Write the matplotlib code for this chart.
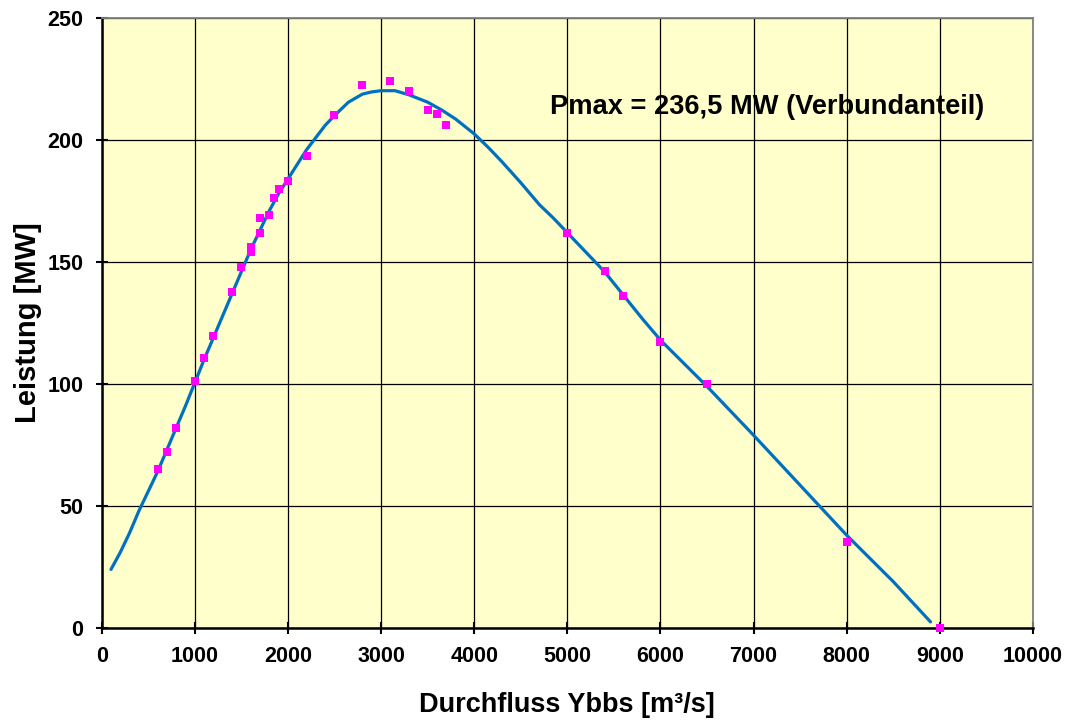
import matplotlib
matplotlib.use("Agg")
import matplotlib.pyplot as plt

# Measured points (Durchfluss [m³/s], Leistung [MW])
meas_q = [600, 700, 800, 1000, 1100, 1200, 1400, 1500, 1600, 1600, 1700, 1700,
          1800, 1850, 1900, 2000, 2200, 2500, 2800, 3100, 3300, 3500, 3600, 3700,
          5000, 5400, 5600, 6000, 6500, 8000, 9000]
meas_p = [65.0, 72.3, 81.8, 101.2, 110.5, 119.7, 137.7, 148.1, 156.3, 154.2, 162.0, 168.2,
          169.3, 176.1, 180.0, 183.3, 193.4, 210.1, 222.5, 224.2, 220.1, 212.2, 210.7, 206.0,
          161.8, 146.3, 136.1, 117.3, 99.9, 35.1, 0.0]

# Fitted curve
curve_q = [100, 200, 300, 400, 500, 600, 700, 800, 900, 1000, 1100, 1200, 1300, 1400,
           1500, 1600, 1700, 1800, 1900, 2000, 2100, 2200, 2300, 2400, 2500, 2650,
           2800, 2900, 3000, 3150, 3300, 3500, 3650, 3800, 4000, 4150, 4300, 4500,
           4700, 4850, 5000, 5200, 5400, 5600, 5800, 6000, 6250, 6500, 7000, 7500,
           8000, 8500, 8900]
curve_p = [24, 31, 39, 48, 56, 64, 73, 82, 91, 100.5, 110, 119, 128, 137,
           146, 155, 163, 171, 178, 184, 190, 196, 201, 206, 210, 215.5,
           218.8, 219.7, 220.2, 220.2, 218.5, 215.5, 212.3, 208.6, 202.5, 197, 191, 182.5,
           173.5, 168, 162, 154, 146, 136.5, 127, 118, 108.5, 99, 79, 58.5,
           38, 19, 2.5]

x_ticks = [0, 1000, 2000, 3000, 4000, 5000, 6000, 7000, 8000, 9000, 10000]
y_ticks = [0, 50, 100, 150, 200, 250]

plt.rcParams['font.family'] = ['Liberation Sans', 'DejaVu Sans']
plt.rcParams['font.weight'] = 'bold'

fig = plt.figure(figsize=(10.69, 7.22), dpi=100)
ax = fig.add_axes([0.0951, 0.1302, 0.8712, 0.8449])
ax.set_facecolor('#FFFFCC')

ax.plot(curve_q, curve_p, color='#0070C0', lw=2.3, zorder=3,
        solid_joinstyle='round', solid_capstyle='round')
ax.plot(meas_q, meas_p, linestyle='none', marker='s', markersize=6,
        color='#FF00FF', markeredgewidth=0, zorder=4, clip_on=False)

ax.set_xlim(0, 10000)
ax.set_ylim(0, 250)
ax.set_xticks(x_ticks)
ax.set_yticks(y_ticks)
ax.grid(True, color='black', lw=0.9)
ax.set_axisbelow(True)

for s in ['top', 'right']:
    ax.spines[s].set_color('#808080')
    ax.spines[s].set_linewidth(1.3)
for s in ['left', 'bottom']:
    ax.spines[s].set_color('black')
    ax.spines[s].set_linewidth(1.8)

ax.tick_params(direction='inout', length=8, width=1.5, labelsize=15.5, pad=9)
for lbl in ax.get_xticklabels() + ax.get_yticklabels():
    lbl.set_fontweight('bold')

ax.set_xlabel('Durchfluss Ybbs [m³/s]', fontsize=19.5, fontweight='bold', labelpad=18)
ax.set_ylabel('Leistung [MW]', fontsize=21, fontweight='bold', labelpad=4)

ax.text(4810, 213.5, 'Pmax = 236,5 MW (Verbundanteil)', fontsize=19.6, fontweight='bold',
        ha='left', va='center')

fig.savefig('out.png', dpi=100)
